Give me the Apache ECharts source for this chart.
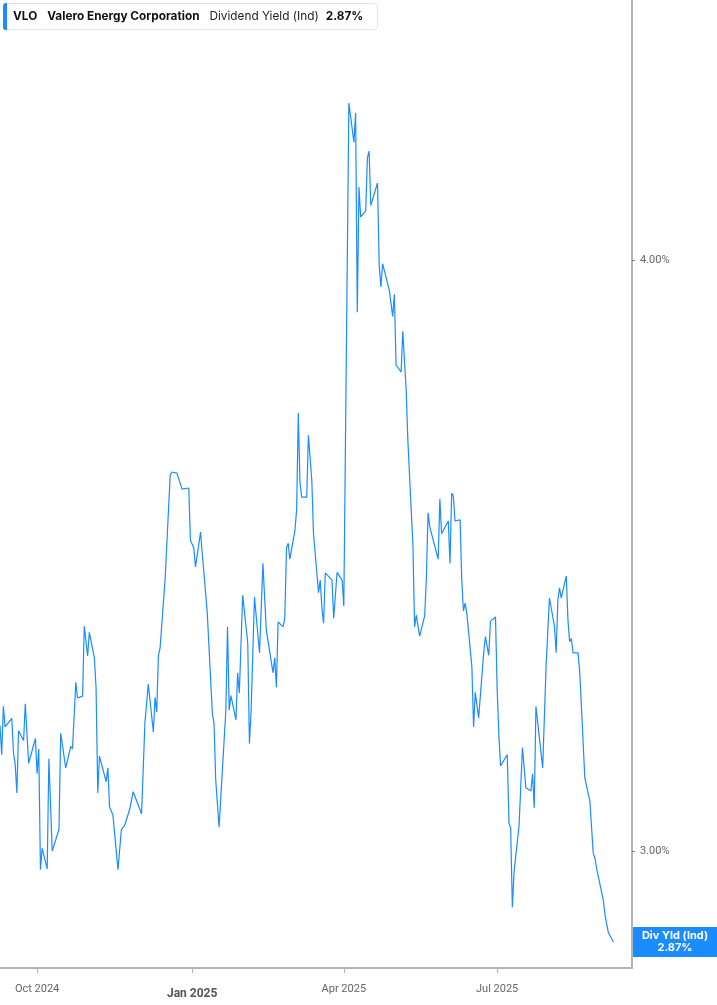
<!DOCTYPE html>
<html>
<head>
<meta charset="utf-8">
<script src="https://cdn.jsdelivr.net/npm/echarts@6/dist/echarts.min.js"></script>
<style>
html,body{margin:0;padding:0;background:#fff;}
#chart{width:717px;height:1005px;}
</style>
</head>
<body>
<div id="chart"></div>
<script>
// ---- data ----
const ticker = 'VLO';
const company = 'Valero Energy Corporation';
const metric = 'Dividend Yield (Ind)';
const endLabelName = 'Div Yld (Ind)';
const xTickDates = ['2024-10-01', '2025-01-01', '2025-04-01', '2025-07-01'];
const yTickValues = [3, 4];
const dates = [
'2024-09-09','2024-09-10','2024-09-11','2024-09-12','2024-09-16','2024-09-17','2024-09-18','2024-09-19','2024-09-20','2024-09-23',
'2024-09-24','2024-09-25','2024-09-26','2024-09-30','2024-10-01','2024-10-02','2024-10-03','2024-10-04','2024-10-07','2024-10-08',
'2024-10-10','2024-10-14','2024-10-15','2024-10-18','2024-10-21','2024-10-22','2024-10-24','2024-10-25','2024-10-28','2024-10-29',
'2024-10-31','2024-11-01','2024-11-04','2024-11-05','2024-11-06','2024-11-07','2024-11-11','2024-11-12','2024-11-13','2024-11-15',
'2024-11-18','2024-11-20','2024-11-22','2024-11-25','2024-11-26','2024-11-27','2024-12-02','2024-12-04','2024-12-06','2024-12-09',
'2024-12-10','2024-12-11','2024-12-12','2024-12-13','2024-12-16','2024-12-17','2024-12-19','2024-12-20','2024-12-23','2024-12-24',
'2024-12-26','2024-12-27','2024-12-30','2024-12-31','2025-01-02','2025-01-03','2025-01-06','2025-01-07','2025-01-08','2025-01-10',
'2025-01-13','2025-01-14','2025-01-15','2025-01-17','2025-01-21','2025-01-22','2025-01-23','2025-01-24','2025-01-27','2025-01-28',
'2025-01-29','2025-01-31','2025-02-03','2025-02-04','2025-02-05','2025-02-07','2025-02-10','2025-02-11','2025-02-12','2025-02-13',
'2025-02-14','2025-02-18','2025-02-19','2025-02-20','2025-02-21','2025-02-24','2025-02-25','2025-02-26','2025-02-27','2025-02-28',
'2025-03-03','2025-03-04','2025-03-05','2025-03-06','2025-03-07','2025-03-10','2025-03-11','2025-03-13','2025-03-14','2025-03-17',
'2025-03-18','2025-03-19','2025-03-20','2025-03-21','2025-03-25','2025-03-26','2025-03-28','2025-03-31','2025-04-01','2025-04-02',
'2025-04-04','2025-04-07','2025-04-08','2025-04-09','2025-04-10','2025-04-11','2025-04-14','2025-04-15','2025-04-16','2025-04-17',
'2025-04-21','2025-04-22','2025-04-23','2025-04-24','2025-04-28','2025-04-30','2025-05-01','2025-05-02','2025-05-05','2025-05-06',
'2025-05-07','2025-05-08','2025-05-09','2025-05-12','2025-05-13','2025-05-14','2025-05-16','2025-05-19','2025-05-20','2025-05-21',
'2025-05-22','2025-05-23','2025-05-27','2025-05-28','2025-05-29','2025-06-02','2025-06-03','2025-06-04','2025-06-05','2025-06-06',
'2025-06-09','2025-06-10','2025-06-11','2025-06-12','2025-06-13','2025-06-16','2025-06-17','2025-06-18','2025-06-20','2025-06-23',
'2025-06-24','2025-06-25','2025-06-26','2025-06-27','2025-06-30','2025-07-01','2025-07-02','2025-07-03','2025-07-07','2025-07-08',
'2025-07-09','2025-07-10','2025-07-11','2025-07-14','2025-07-15','2025-07-16','2025-07-18','2025-07-21','2025-07-22','2025-07-23',
'2025-07-24','2025-07-28','2025-07-29','2025-07-30','2025-08-01','2025-08-04','2025-08-05','2025-08-06','2025-08-07','2025-08-08',
'2025-08-11','2025-08-12','2025-08-13','2025-08-14','2025-08-15','2025-08-18','2025-08-19','2025-08-20','2025-08-21','2025-08-22',
'2025-08-25','2025-08-26','2025-08-27','2025-08-28','2025-08-29','2025-09-02','2025-09-03','2025-09-04','2025-09-05','2025-09-08'
];
const yields = [
3.189,3.144,3.219,3.187,3.200,3.147,3.130,3.086,3.181,3.166,
3.223,3.223,3.131,3.169,3.115,3.153,2.973,3.004,2.974,3.138,
3.000,3.032,3.177,3.124,3.157,3.153,3.257,3.232,3.235,3.347,
3.299,3.337,3.296,3.248,3.086,3.142,3.103,3.124,3.065,3.053,
2.973,3.031,3.038,3.062,3.062,3.088,3.055,3.194,3.254,3.179,
3.233,3.210,3.300,3.312,3.426,3.428,3.603,3.608,3.606,3.603,
3.578,3.580,3.580,3.490,3.477,3.445,3.504,3.468,3.435,3.368,
3.208,3.192,3.106,3.035,3.213,3.346,3.213,3.236,3.198,3.272,
3.240,3.398,3.320,3.161,3.213,3.395,3.304,3.304,3.451,3.451,
3.341,3.272,3.296,3.249,3.354,3.346,3.362,3.477,3.485,3.458,
3.507,3.542,3.713,3.589,3.564,3.564,3.673,3.594,3.502,3.402,
3.423,3.377,3.352,3.435,3.423,3.360,3.436,3.423,3.380,3.383,
4.318,4.236,4.297,3.900,4.145,4.085,4.097,4.204,4.218,4.108,
4.153,3.990,3.948,3.993,3.942,3.892,3.934,3.801,3.788,3.864,
3.864,3.755,3.664,3.482,3.346,3.365,3.331,3.364,3.428,3.537,
3.513,3.514,3.458,3.561,3.501,3.523,3.451,3.571,3.566,3.523,
3.525,3.423,3.372,3.385,3.368,3.281,3.187,3.241,3.201,3.304,
3.330,3.330,3.300,3.355,3.362,3.245,3.174,3.127,3.144,3.041,
3.034,2.919,2.969,3.038,3.038,3.155,3.094,3.089,3.115,3.064,
3.219,3.124,3.124,3.281,3.393,3.347,3.304,3.390,3.410,3.393,
3.430,3.357,3.322,3.327,3.304,3.304,3.272,3.218,3.219,3.109,
3.074,3.075,2.997,2.990,2.975,2.929,2.908,2.908,2.883,2.870
];

function ts(s) { const p = s.split('-').map(Number); return new Date(p[0], p[1] - 1, p[2]).getTime(); }
const seriesData = dates.map((d, i) => [ts(d), yields[i]]);
const lastValue = yields[yields.length - 1];
const MONTHS = ['Jan','Feb','Mar','Apr','May','Jun','Jul','Aug','Sep','Oct','Nov','Dec'];
const FONT = 'Inter, Roboto, sans-serif';
const BLUE = '#1a8cff';

const chart = echarts.init(document.getElementById('chart'), null, { renderer: 'canvas' });
chart.setOption({
  animation: false,
  backgroundColor: '#fff',
  textStyle: { fontFamily: FONT },
  title: {
    left: 3, top: 3, padding: [0, 14, 0, 0],
    backgroundColor: '#fff', borderColor: '#e2e2e2', borderWidth: 1, borderRadius: 3,
    text: '{bar|}{k|' + ticker + '}{b|' + company + '}{n|' + metric + '}{v|' + lastValue.toFixed(2) + '%}',
    textStyle: {
      rich: {
        bar: { backgroundColor: BLUE, width: 4, height: 27, borderRadius: [3, 0, 0, 3] },
        k: { fontFamily: FONT, fontWeight: 'bold', fontSize: 11.8, color: '#111', padding: [0, 0, 0, 6] },
        b: { fontFamily: FONT, fontWeight: 'bold', fontSize: 11.8, color: '#111', padding: [0, 0, 0, 10] },
        n: { fontFamily: FONT, fontWeight: 'normal', fontSize: 11.8, color: '#222', padding: [0, 0, 0, 10] },
        v: { fontFamily: FONT, fontWeight: 'bold', fontSize: 11.8, color: '#111', padding: [0, 0, 0, 7] }
      }
    }
  },
  grid: { left: 0, right: 85, top: 0, bottom: 37, containLabel: false },
  xAxis: {
    type: 'value',
    min: ts('2024-09-09'),
    max: ts('2025-09-19'),
    axisLine: { show: true, lineStyle: { color: '#b3b3b3', width: 2 } },
    axisTick: { show: true, length: 5, lineStyle: { color: '#b3b3b3', width: 1 }, customValues: xTickDates.map(ts) },
    splitLine: { show: false },
    axisLabel: {
      customValues: xTickDates.map(ts),
      margin: 16,
      fontFamily: 'Roboto, sans-serif',
      fontSize: 11,
      color: '#666',
      formatter: function (v) {
        const d = new Date(v);
        const s = MONTHS[d.getMonth()] + ' ' + d.getFullYear();
        return d.getMonth() === 0 ? '{y|' + s + '}' : s;
      },
      rich: { y: { fontFamily: 'Roboto, sans-serif', fontWeight: 'bold', fontSize: 12, color: '#555', padding: [4, 0, 0, 0] } }
    }
  },
  yAxis: {
    type: 'log',
    logBase: 10,
    position: 'right',
    min: 2.834,
    max: 4.540,
    axisLine: { show: true, lineStyle: { color: '#b3b3b3', width: 2 } },
    axisTick: { show: true, length: 3, lineStyle: { color: '#777', width: 1 }, customValues: yTickValues },
    splitLine: { show: false },
    minorTick: { show: false },
    axisLabel: {
      customValues: yTickValues,
      margin: 8,
      fontFamily: 'Roboto, sans-serif',
      fontSize: 11,
      color: '#666',
      formatter: v => Number(v).toFixed(2) + '%'
    }
  },
  series: [{
    type: 'line',
    data: seriesData,
    showSymbol: false,
    symbol: 'none',
    clip: false,
    lineStyle: { color: BLUE, width: 1.2 },
    itemStyle: { color: BLUE },
    silent: true,
    markLine: {
      silent: true,
      symbol: ['none', 'none'],
      lineStyle: { width: 1, color: 'rgba(0,0,0,0)', type: 'solid' },
      data: [{ yAxis: lastValue }],
      label: {
        show: true,
        position: 'end',
        distance: 1,
        backgroundColor: BLUE,
        padding: [3, 4, 3, 4],
        formatter: '{a|' + endLabelName + '}\n{a|' + lastValue.toFixed(2) + '%}',
        rich: {
          a: { width: 76, align: 'center', color: '#fff', fontFamily: FONT, fontWeight: 'bold', fontSize: 11, lineHeight: 12 }
        }
      }
    }
  }]
});
</script>
</body>
</html>
